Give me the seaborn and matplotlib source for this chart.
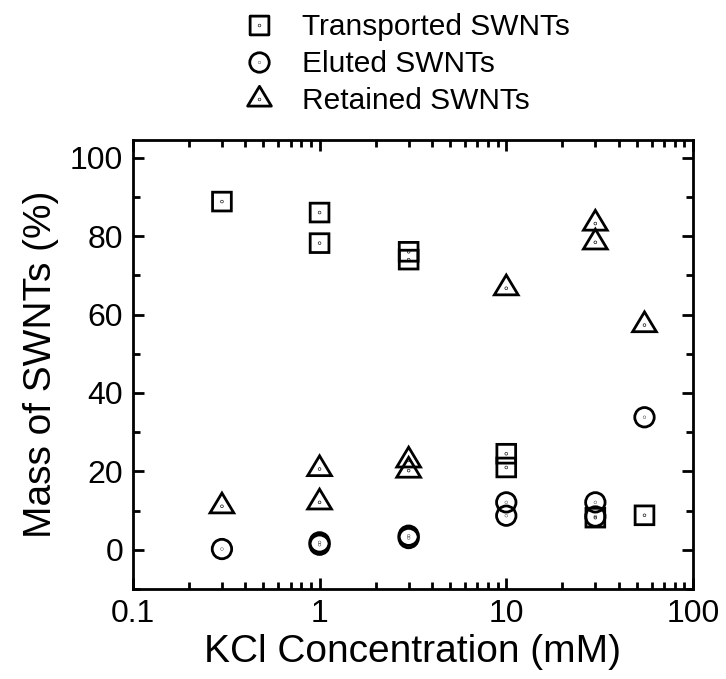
import numpy as np
import matplotlib
matplotlib.use("Agg")
import matplotlib.pyplot as plt
from matplotlib.path import Path
from matplotlib.lines import Line2D
from matplotlib.ticker import FixedLocator, MultipleLocator, LogLocator, NullFormatter
import seaborn as sns

# values
transported_x = [0.3, 1, 1, 3, 3, 10, 10, 30, 55]
transported_y = [88.8, 86.0, 78.2, 76.0, 74.0, 24.5, 21.0, 8.2, 8.8]
eluted_x = [0.3, 1, 1, 3, 3, 10, 10, 30, 30, 55]
eluted_y = [0.2, 1.3, 1.9, 3.6, 3.0, 12.1, 8.7, 12.1, 8.5, 33.8]
retained_x = [0.3, 1, 1, 3, 3, 10, 30, 30, 55]
retained_y = [11.1, 20.6, 12.1, 22.8, 20.2, 66.7, 83.2, 78.4, 57.3]
labels = ["Transported SWNTs", "Eluted SWNTs", "Retained SWNTs"]
x_ticks = [0.1, 1, 10, 100]
x_ticklabels = ["0.1", "1", "10", "100"]
y_ticks = [0, 20, 40, 60, 80, 100]

sns.set_style("ticks")
plt.rcParams["font.family"] = ["Liberation Sans", "DejaVu Sans"]
plt.rcParams["text.color"] = "black"
plt.rcParams["axes.labelcolor"] = "black"
plt.rcParams["xtick.color"] = "black"
plt.rcParams["ytick.color"] = "black"


def with_dot(outline):
    # open symbol with a small dot in the middle, like Origin's dotted symbols
    dot = Path.circle((0, 0), 0.015)
    return Path.make_compound_path(outline, dot)


sq_path = with_dot(Path([(-0.5, -0.5), (0.5, -0.5), (0.5, 0.5), (-0.5, 0.5), (-0.5, -0.5)],
                        [Path.MOVETO, Path.LINETO, Path.LINETO, Path.LINETO, Path.CLOSEPOLY]))
circ_path = with_dot(Path.unit_circle())
# triangle centred on its centroid
tri_path = with_dot(Path([(0, 2 / 3), (-0.6, -1 / 3), (0.6, -1 / 3), (0, 2 / 3)],
                         [Path.MOVETO, Path.LINETO, Path.LINETO, Path.CLOSEPOLY]))

series = [
    (transported_x, transported_y, sq_path, 13.5),
    (eluted_x, eluted_y, circ_path, 14.0),
    (retained_x, retained_y, tri_path, 19.0),
]
edge_w = 2.0

fig = plt.figure(figsize=(7.26, 6.79), dpi=100)
ax = fig.add_axes([0.183, 0.1325, 0.7715, 0.6613])

for xs, ys, mk, ms in series:
    sns.scatterplot(x=xs, y=ys, marker=mk, s=ms ** 2, facecolor="none",
                    edgecolor="black", linewidth=edge_w, ax=ax, zorder=3)
    ax.collections[-1].set_linewidths(edge_w)
    ax.collections[-1].set_joinstyle("miter")

ax.set_xscale("log")
ax.set_xlim(0.1, 100)
ax.set_ylim(-10, 104.5)
ax.xaxis.set_major_locator(FixedLocator(x_ticks))
ax.set_xticklabels(x_ticklabels)
ax.xaxis.set_minor_locator(LogLocator(base=10, subs=np.arange(2, 10)))
ax.xaxis.set_minor_formatter(NullFormatter())
ax.yaxis.set_major_locator(FixedLocator(y_ticks))
ax.yaxis.set_minor_locator(MultipleLocator(10))

ax.tick_params(which="both", direction="in", top=True, right=True, width=2,
               labelsize=23, colors="black")
ax.tick_params(which="major", length=8, pad=7)
ax.tick_params(which="minor", length=5)
for sp in ax.spines.values():
    sp.set_linewidth(2)
    sp.set_color("black")

ax.set_xlabel("KCl Concentration (mM)", fontsize=28, labelpad=4)
ax.set_ylabel("Mass of SWNTs (%)", fontsize=28, labelpad=8)

handles = [Line2D([], [], linestyle="none", marker=mk, markersize=ms,
                  markerfacecolor="none", markeredgecolor="black", markeredgewidth=edge_w)
           for _, _, mk, ms in series]
ax.legend(handles, labels, loc="upper left", bbox_to_anchor=(0.332, 0.985),
          bbox_transform=fig.transFigure, frameon=False, fontsize=21.5,
          handlelength=1.0, handletextpad=0.95, labelspacing=0.3, borderpad=0.1,
          borderaxespad=0)

fig.savefig("out.png", dpi=100)
